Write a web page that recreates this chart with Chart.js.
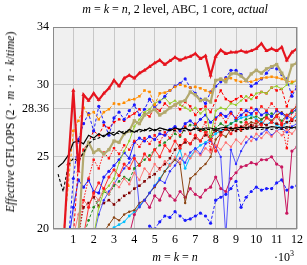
<!DOCTYPE html>
<html lang="en">

<head>
    <meta charset="UTF-8">
    <title>GFLOPS</title>
    <script src="https://cdn.jsdelivr.net/npm/chart.js"></script>
    <style>
        body { margin: 0; background: #fff; }
        .tela { position: relative; width: 307px; height: 265px; font-family: "Liberation Serif", serif; font-size: 12px; color: #000; }
        .titulo { position: absolute; left: 53px; width: 244px; top: 2px; text-align: center; line-height: 14px; white-space: nowrap; }
        .eixo_x { position: absolute; left: 53px; width: 244px; top: 250px; text-align: center; line-height: 14px; }
        .escala { position: absolute; left: 274px; top: 247px; line-height: 14px; }
        .eixo_y { position: absolute; left: 10px; top: 122px; transform: translate(-50%, -50%) rotate(-90deg); white-space: nowrap; line-height: 14px; }
    </style>
</head>

<body>
    <div class="tela">
        <canvas id="grafico" width="307" height="265"></canvas>
        <div class="titulo"><i>m</i> = <i>k</i> = <i>n</i>, 2 level, ABC, 1 core, <i>actual</i></div>
        <div class="eixo_y"><i>Effective</i> GFLOPS (2 · <i>m</i> · <i>n</i> · <i>k</i>/<i>time</i>)</div>
        <div class="eixo_x"><i>m</i> = <i>k</i> = <i>n</i></div>
        <div class="escala">·10<sup style="font-size:8px">3</sup></div>
    </div>
</body>

</html>
<script>

    const tamanhos = [250, 500, 750, 1000, 1250, 1500, 1750, 2000, 2250, 2500, 2750, 3000,
        3250, 3500, 3750, 4000, 4250, 4500, 4750, 5000, 5250, 5500, 5750, 6000,
        6250, 6500, 6750, 7000, 7250, 7500, 7750, 8000, 8250, 8500, 8750, 9000,
        9250, 9500, 9750, 10000, 10250, 10500, 10750, 11000, 11250, 11500, 11750, 12000];

    const ticksY = [20, 25, 28.36, 30, 34];

    const vermelhoGrosso = [null, 18.5, 24.5, 29.6, 24.0, 29.3, 28.9, 29.4, 28.95, 29.4, 29.75, 30.3,
        29.9, 30.45, 30.65, 30.45, 30.8, 31.0, 31.25, 31.5, 31.7, 31.4, 31.65, 31.9,
        31.7, 31.85, 31.95, 32.15, 31.8, 32.0, 30.65, 31.95, 32.4, 32.15, 32.25, 32.25,
        32.35, 32.25, 32.35, 32.5, 32.85, 32.35, 32.5, 32.35, 32.6, 31.7, 32.25, 32.5];

    const pretoSolido = [24.3, 24.6, 25.1, 26.0, 26.1, 25.9, 26.5, 26.3, 26.6, 26.4, 26.7, 26.5,
        26.8, 26.6, 26.9, 26.7, 26.9, 26.8, 27.0, 26.8, 27.0, 26.9, 26.8, 27.0,
        26.9, 27.0, 26.8, 27.0, 26.9, 27.0, 27.0, 26.9, 27.0, 27.05, 26.95, 27.0,
        27.05, 27.0, 27.1, 27.0, 27.05, 27.0, 27.1, 27.05, 27.0, 27.1, 27.0, 27.1];

    const pretoTracejado = [23.8, 22.6, 24.4, 24.9, 24.7, 25.3, 25.9, 26.2, 26.3, 26.5, 26.6, 26.7,
        26.6, 26.8, 26.7, 26.8, 26.7, 26.9, 26.8, 26.9, 26.8, 26.9, 26.9, 26.8,
        26.9, 26.8, 26.9, 26.9, 26.8, 26.9, 26.9, 26.8, 26.9, 26.9, 26.8, 26.9,
        26.9, 26.9, 27.0, 26.9, 26.9, 27.0, 26.9, 27.0, 26.9, 27.0, 27.0, 27.0];

    const laranja = [null, 19.5, 23.0, 26.8, 27.5, 28.4, 27.9, 28.1, 27.6, 28.1, 28.3, 28.7,
        28.65, 28.75, 28.95, 29.0, 29.2, 29.6, 29.5, 28.6, 29.4, 29.45, 29.6, 29.85,
        30.0, 29.9, 29.8, 29.85, 29.75, 29.6, 29.45, 30.3, 30.35, 30.4, 30.45, 30.3,
        30.2, 30.25, 30.2, 30.35, 30.45, 30.5, 30.55, 30.5, 30.4, 30.25, 30.2, 30.3];

    const caqui = [null, null, null, null, 19.5, 25.2, 26.0, 25.3, 25.5, 25.2, 25.5, 26.1,
        26.0, 26.6, 26.8, 27.5, 27.3, 27.9, 28.1, 28.3, 27.9, 28.1, 28.4, 28.6,
        28.8, 28.9, 29.5, 29.3, 28.9, 29.0, 28.8, 30.3, 30.4, 30.2, 30.75, 30.8,
        30.6, 30.3, 30.75, 31.0, 30.8, 31.1, 31.25, 31.4, 30.8, 30.2, 31.35, 31.5];

    const azulTracejadoAlto = [null, null, 19.0, 23.5, 26.2, 27.3, 28.0, 26.8, 28.5, 27.4, 26.5, 27.7,
        28.1, 27.6, 28.2, 28.6, 27.9, 28.3, 29.0, 28.4, 28.8, 29.2, 29.6, 29.9,
        30.1, 30.4, 29.8, 29.4, 29.0, 28.7, 29.5, 29.9, 30.2, 30.5, 31.0, 31.0,
        30.7, 30.3, 29.9, 30.1, 30.4, 30.8, 31.2, 31.1, 30.7, 30.4, 29.2, 29.9];

    const verdeAmarelo = [null, null, null, null, null, null, null, 19.5, 21.5, 22.6, 23.0, 23.5,
        24.6, 25.4, 26.1, 27.1, 27.6, 28.1, 28.3, 28.7, 28.9, 29.1, 28.7, 28.9,
        28.6, 28.4, 28.2, 28.4, 28.0, 28.3, 26.4, 28.2, 28.4, 28.3, 28.7, 28.6,
        28.9, 29.2, 29.0, 29.4, 29.5, 29.4, 29.8, 29.9, 29.7, 30.0, 30.1, 30.3];

    const vermelhoTracejado = [null, null, null, 19.5, 24.5, 25.5, 26.0, 26.8, 26.5, 27.2, 27.0, 27.4,
        27.6, 27.5, 27.8, 28.0, 28.3, 28.0, 27.8, 28.4, 28.2, 28.7, 28.4, 28.6,
        28.3, 28.8, 28.5, 27.9, 28.3, 28.5, 28.1, 28.9, 29.6, 29.0, 28.8, 29.0,
        29.2, 28.9, 29.3, 29.1, 29.5, 29.4, 29.8, 29.6, 29.7, 28.5, 29.5, 29.7];

    const vermelhoPontilhado = [null, null, null, null, 19.5, 22.0, 23.5, 24.8, 24.2, 25.3, 24.9, 25.6,
        25.2, 25.8, 25.5, 26.1, 25.7, 26.3, 25.9, 26.5, 26.0, 26.7, 26.3, 26.9,
        26.5, 27.1, 26.6, 27.3, 26.8, 27.4, 25.5, 27.6, 27.9, 27.4, 28.0, 27.7,
        28.3, 27.9, 28.4, 28.0, 28.5, 28.2, 28.7, 28.3, 27.2, 25.6, 28.2, 28.6];

    const vermelhoSolido = [null, null, null, null, null, 19.5, 21.5, 22.5, 23.2, 22.8, 23.6, 24.1,
        23.7, 24.5, 24.2, 24.9, 24.4, 25.2, 24.8, 25.5, 25.0, 25.8, 25.4, 26.1,
        25.6, 26.2, 25.9, 26.5, 26.1, 26.7, 26.2, 25.4, 26.5, 27.0, 26.6, 27.2,
        26.9, 27.4, 27.0, 27.5, 27.2, 27.7, 27.4, 27.8, 27.3, 27.9, 27.6, 28.0];

    const salmao = [null, null, null, 19.5, 21.0, 22.0, 21.6, 22.4, 22.0, 22.8, 22.4, 23.2,
        22.9, 23.5, 23.1, 23.9, 23.4, 24.2, 23.8, 24.5, 24.1, 24.7, 24.4, 25.0,
        24.6, 25.2, 24.9, 25.4, 25.1, 25.6, 25.3, 25.8, 25.5, 26.0, 25.7, 26.2,
        25.9, 26.4, 26.1, 26.6, 26.3, 26.7, 26.4, 26.8, 26.5, 26.9, 26.6, 27.0];

    const verdeTracejado = [null, null, null, null, null, 19.5, 20.6, 21.5, 22.0, 22.6, 22.4, 23.0,
        23.3, 23.6, 23.4, 24.2, 24.5, 24.8, 25.1, 25.5, 25.8, 26.0, 26.3, 26.6,
        26.4, 27.0, 27.2, 27.2, 26.9, 26.8, 26.4, 27.0, 27.3, 27.1, 27.3, 27.5,
        27.4, 27.6, 27.7, 27.8, 27.6, 27.9, 28.0, 27.8, 27.5, 27.9, 28.1, 28.2];

    const azulSolido = [null, null, 19.0, 21.5, 23.4, 22.9, 23.4, 22.6, 22.5, 23.6, 24.0, 24.4,
        24.8, 25.3, 24.9, 26.0, 26.3, 26.1, 26.4, 26.2, 26.6, 26.5, 26.9, 27.1,
        26.8, 27.3, 27.5, 27.2, 27.6, 27.9, 27.4, 27.7, 28.0, 27.8, 28.1, 27.6,
        27.9, 28.2, 28.0, 28.3, 27.9, 28.1, 27.8, 28.2, 28.0, 27.7, 28.1, 28.3];

    const azulFino = [null, null, null, null, null, null, null, 19.5, 21.0, 22.0, 22.6, 23.1,
        23.7, 24.2, 24.6, 25.1, 21.5, 22.0, 22.5, 23.0, 23.4, 23.2, 24.0, 24.4,
        24.9, 24.6, 25.3, 25.6, 25.2, 25.9, 26.1, 25.7, 25.0, 19.5, 25.5, 24.5,
        25.4, 26.0, 26.4, 26.2, 26.6, 26.9, 26.5, 26.8, 27.0, 26.7, 27.1, 27.3];

    const marrom = [null, null, null, null, null, null, null, null, null, 19.8, 20.3, 20.8,
        20.6, 21.0, 21.2, 21.3, 21.8, 22.0, 22.5, 22.9, 23.4, 24.0, 24.4, 24.8,
        24.5, 21.8, 23.5, 23.8, 24.2, 24.5, 25.0, 26.2, 26.6, 26.4, 26.9, 27.0,
        26.8, 27.2, 27.4, 27.3, 27.6, 27.8, 27.5, 27.9, 28.1, 27.8, 28.2, 28.5];

    const bordo = [null, null, null, null, 19.5, 21.5, 21.8, 22.2, 21.6, 21.8, 22.0, 21.7,
        22.0, 22.3, 22.5, 22.8, 23.0, 23.3, 23.6, 23.8, 24.2, 24.5, 24.9, 25.5,
        25.8, 26.0, 25.9, 26.3, 26.1, 26.5, 26.4, 26.8, 26.7, 26.9, 27.0, 26.8,
        27.1, 27.0, 27.2, 27.1, 27.3, 27.2, 27.4, 27.3, 27.2, 27.4, 27.5, 27.5];

    const ciano = [null, null, null, null, null, null, null, null, null, null, 19.6, 20.1,
        20.3, 20.5, 20.9, 21.2, 21.6, 22.0, 22.5, 23.0, 23.5, 24.0, 24.5, 24.8,
        25.5, 24.2, 25.0, 25.5, 25.8, 26.0, 26.3, 26.6, 26.8, 27.0, 27.3, 27.5,
        27.7, 27.8, 27.9, 27.6, 27.4, 27.2, 27.5, 27.2, 27.0, 27.4, 27.6, 27.8];

    const carmim = [null, null, null, null, null, null, null, null, null, null, null, null,
        null, null, 19.6, 21.0, 21.6, 22.0, 21.5, 22.3, 22.0, 22.8, 22.3, 22.0,
        22.6, 22.2, 22.8, 22.4, 22.2, 22.7, 22.9, 23.6, 22.8, 22.6, 23.5, 23.9,
        24.3, 24.4, 24.6, 24.5, 24.8, 24.8, 25.0, 24.5, 24.3, 21.1, 25.4, 25.7];

    const azulTracejadoBaixo = [null, null, null, null, null, null, null, null, null, null, null, null,
        null, null, null, null, null, 19.6, 20.2, 20.0, 20.5, 20.9, 20.8, 21.2,
        20.9, 20.6, 20.7, 20.9, 21.1, 20.9, 20.4, 22.0, 22.2, 22.4, 22.8, 23.3,
        21.5, 22.2, 22.6, 22.9, 22.7, 22.8, 22.8, 23.2, 23.4, 22.7, 22.9, 23.0];

    const tracejado = [3, 2];
    const pontilhado = [1.5, 1.5];

    const series = [
        { valores: vermelhoGrosso, cor: '#e6141e', largura: 2.2, traco: [], ponto: 'triangle', raio: 2.4 },
        { valores: pretoSolido, cor: '#000000', largura: 1.2, traco: [], ponto: false, raio: 0 },
        { valores: pretoTracejado, cor: '#000000', largura: 1.1, traco: tracejado, ponto: false, raio: 0 },
        { valores: caqui, cor: '#b3a96e', largura: 2.2, traco: [], ponto: 'rect', raio: 2.3 },
        { valores: laranja, cor: '#ff8c00', largura: 1, traco: tracejado, ponto: 'rect', raio: 1.8 },
        { valores: azulTracejadoAlto, cor: '#1a1aff', largura: 1, traco: tracejado, ponto: 'circle', raio: 1.6 },
        { valores: verdeAmarelo, cor: '#9acd32', largura: 1, traco: [], ponto: 'circle', raio: 1.2 },
        { valores: vermelhoTracejado, cor: '#ff0000', largura: 1, traco: tracejado, ponto: 'rect', raio: 1.7 },
        { valores: vermelhoPontilhado, cor: '#ff1010', largura: 1, traco: pontilhado, ponto: 'rect', raio: 1.7 },
        { valores: vermelhoSolido, cor: '#ff2020', largura: 0.9, traco: [], ponto: 'circle', raio: 1.6 },
        { valores: salmao, cor: '#ff7070', largura: 0.9, traco: [], ponto: 'circle', raio: 1.2 },
        { valores: verdeTracejado, cor: '#228b22', largura: 1, traco: tracejado, ponto: 'circle', raio: 1.3 },
        { valores: azulSolido, cor: '#1a1aff', largura: 1, traco: [], ponto: 'circle', raio: 1.6 },
        { valores: azulFino, cor: '#3030ff', largura: 0.8, traco: [], ponto: 'circle', raio: 1.2 },
        { valores: marrom, cor: '#8b4513', largura: 1, traco: [], ponto: 'circle', raio: 1.2 },
        { valores: bordo, cor: '#800000', largura: 1, traco: pontilhado, ponto: 'rect', raio: 1.8 },
        { valores: ciano, cor: '#00bfff', largura: 1, traco: [], ponto: 'circle', raio: 1.4 },
        { valores: carmim, cor: '#c8175f', largura: 1, traco: [], ponto: 'circle', raio: 1.6 },
        { valores: azulTracejadoBaixo, cor: '#1a1aff', largura: 1, traco: tracejado, ponto: 'circle', raio: 1.6 }
    ];

    const moldura = {
        id: 'moldura',
        beforeDraw(chart) {
            const a = chart.chartArea;
            const ctx = chart.ctx;
            ctx.save();
            ctx.fillStyle = '#f0f0f0';
            ctx.fillRect(a.left, a.top, a.right - a.left, a.bottom - a.top);
            ctx.restore();
        },
        afterDraw(chart) {
            const a = chart.chartArea;
            const ctx = chart.ctx;
            ctx.save();
            ctx.strokeStyle = '#8a8a8a';
            ctx.lineWidth = 1;
            ctx.strokeRect(a.left + 0.5, a.top + 0.5, a.right - a.left - 1, a.bottom - a.top - 1);
            ctx.restore();
        }
    };

    function gerarGrafico() {
        const datasets = series.map(s => ({
            data: tamanhos.map((x, i) => ({ x: x, y: s.valores[i] })),
            borderColor: s.cor,
            backgroundColor: s.cor,
            borderWidth: s.largura,
            borderDash: s.traco,
            pointStyle: s.ponto,
            pointRadius: s.raio,
            pointBorderWidth: 0,
            tension: 0,
            spanGaps: false
        }));

        const fonte = { family: 'Liberation Serif', size: 12 };

        new Chart(document.getElementById('grafico'), {
            type: 'line',
            data: { datasets: datasets },
            plugins: [moldura],
            options: {
                responsive: false,
                animation: false,
                layout: { padding: { top: 27, right: 10, left: 0, bottom: 0 } },
                plugins: {
                    legend: { display: false },
                    tooltip: { enabled: false }
                },
                scales: {
                    x: {
                        type: 'linear',
                        min: 0,
                        max: 12000,
                        afterFit: function (scale) { scale.height = 36; },
                        grid: { color: '#c8c8c8', drawTicks: false },
                        border: { display: false },
                        ticks: {
                            stepSize: 1000,
                            autoSkip: false,
                            maxRotation: 0,
                            padding: 4,
                            color: '#000',
                            font: fonte,
                            callback: v => v === 0 ? '' : v / 1000
                        }
                    },
                    y: {
                        min: 20,
                        max: 34,
                        afterFit: function (scale) { scale.width = 53; },
                        afterBuildTicks: function (scale) { scale.ticks = ticksY.map(v => ({ value: v })); },
                        grid: { color: '#c8c8c8', drawTicks: false },
                        border: { display: false },
                        ticks: {
                            padding: 4,
                            color: '#000',
                            font: fonte,
                            callback: v => String(v)
                        }
                    }
                }
            }
        });
    }

    gerarGrafico();

</script>
